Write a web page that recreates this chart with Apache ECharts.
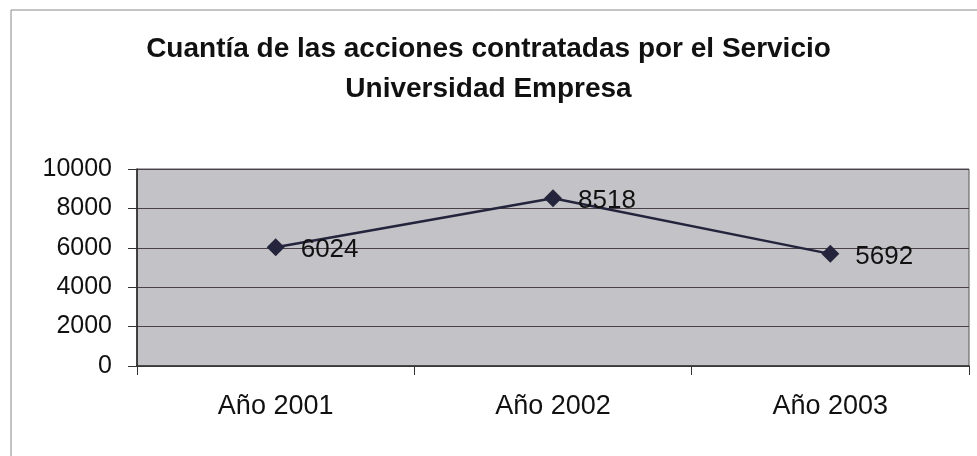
<!DOCTYPE html>
<html>
<head>
<meta charset="utf-8">
<script src="https://cdn.jsdelivr.net/npm/echarts@6/dist/echarts.min.js"></script>
<style>
  html, body { margin: 0; padding: 0; background: #fff; }
  #chart { width: 977px; height: 456px; }
</style>
</head>
<body>
<div id="chart"></div>
<script>
var titleText = 'Cuantía de las acciones contratadas por el Servicio\nUniversidad Empresa';
var years = ['Año 2001', 'Año 2002', 'Año 2003'];
var amounts = [6024, 8518, 5692];
var yTicks = { min: 0, max: 10000, step: 2000 };

var chart = echarts.init(document.getElementById('chart'));
chart.setOption({
  backgroundColor: '#fff',
  textStyle: { fontFamily: 'Liberation Sans, Arial, sans-serif' },
  title: {
    text: titleText,
    left: 'center',
    top: 24,
    textStyle: {
      fontSize: 28,
      fontWeight: 'bold',
      color: '#111',
      lineHeight: 40
    }
  },
  graphic: [{
    type: 'rect',
    shape: { x: 11, y: 10, width: 990, height: 460 },
    style: { fill: 'none', stroke: '#888', lineWidth: 1 },
    silent: true
  }],
  grid: {
    left: 137,
    right: 8,
    top: 169,
    bottom: 90,
    show: true,
    backgroundColor: '#c3c3c7',
    borderColor: '#555',
    borderWidth: 1
  },
  xAxis: {
    type: 'category',
    data: years,
    boundaryGap: true,
    axisLine: { lineStyle: { color: '#333', width: 1.5 } },
    axisTick: { show: true, length: 9, lineStyle: { color: '#333' } },
    axisLabel: { color: '#111', fontSize: 27, margin: 27 }
  },
  yAxis: {
    type: 'value',
    min: yTicks.min,
    max: yTicks.max,
    interval: yTicks.step,
    axisLine: { show: true, lineStyle: { color: '#222', width: 1.5 } },
    axisTick: { show: true, length: 9, lineStyle: { color: '#333' } },
    axisLabel: {
      color: '#111',
      fontSize: 25,
      margin: 25,
      formatter: function (v) { return String(v); }
    },
    splitLine: { lineStyle: { color: '#4a4048', width: 1 } }
  },
  series: [{
    type: 'line',
    data: amounts,
    symbol: 'diamond',
    symbolSize: 18,
    itemStyle: { color: '#24243c' },
    lineStyle: { color: '#24243c', width: 2.5 },
    label: {
      show: true,
      position: 'right',
      distance: 16,
      offset: [0, 3],
      color: '#111',
      fontSize: 26
    },
    animation: false
  }]
});
</script>
</body>
</html>
